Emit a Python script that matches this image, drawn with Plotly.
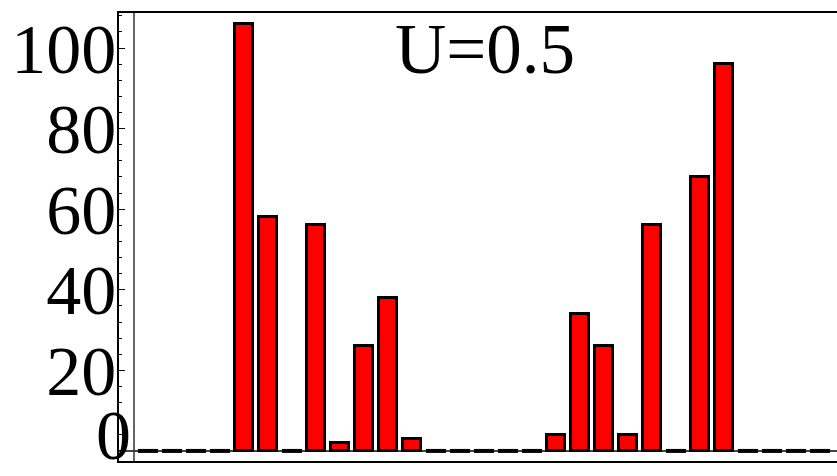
import plotly.graph_objects as go

# Data
positions = list(range(29))
values = [0, 0, 0, 0, 106, 58, 0, 56, 2, 26, 38, 3, 0, 0, 0, 0, 0,
          4, 34, 26, 4, 56, 0, 68, 96, 0, 0, 0, 0]
title_text = "U=0.5"
y_ticks = [0, 20, 40, 60, 80, 100]
y_tick_labels = ["0", "20", "40", "60", "80", "100"]

nz_x = [p for p, v in zip(positions, values) if v != 0]
nz_y = [v for v in values if v != 0]
z_x = [p for p, v in zip(positions, values) if v == 0]
z_y = [v for v in values if v == 0]

serif = "Liberation Serif"
L = 119
PW = 837 - L
Y_RANGE = [-2.5, 108.7]
tick_font = dict(family=serif, size=70, color="black")

fig = go.Figure()
fig.add_trace(go.Bar(
    x=nz_x, y=nz_y, width=0.72,
    marker=dict(color="#ff0000", line=dict(color="black", width=3)),
    showlegend=False,
))
fig.add_trace(go.Scatter(
    x=z_x, y=z_y, mode="markers", yaxis="y2",
    marker=dict(symbol="line-ew", size=14.3, line=dict(color="black", width=4)),
    showlegend=False, cliponaxis=False,
))

fig.update_layout(
    width=837, height=476,
    margin=dict(l=L, r=0, t=13, b=15, pad=0),
    paper_bgcolor="white", plot_bgcolor="white",
    bargap=0,
    xaxis=dict(
        range=[-(148 - L) / 24, (837 - 148) / 24], showgrid=False, zeroline=False,
        showticklabels=False, ticks="",
        showline=True, linecolor="black", linewidth=1.5, mirror=True,
    ),
    yaxis=dict(
        range=Y_RANGE, showgrid=False,
        zeroline=True, zerolinecolor="#444444", zerolinewidth=1.5,
        tickmode="array", tickvals=y_ticks,
        # the bottom label is drawn by the overlay axis (kept inside the page)
        ticktext=[t if v != 0 else "" for v, t in zip(y_ticks, y_tick_labels)],
        ticks="inside", ticklen=6, tickwidth=1, tickcolor="black",
        minor=dict(dtick=4, ticks="inside", ticklen=3, tickwidth=1, tickcolor="black"),
        showline=True, linecolor="black", linewidth=1.5, mirror=False,
        tickfont=tick_font,
        ticklabelstandoff=-13, ticklabeloverflow="allow",
    ),
    yaxis2=dict(
        range=Y_RANGE, overlaying="y", side="left", anchor="x",
        showgrid=False, zeroline=False, showline=False, ticks="",
        tickmode="array", tickvals=[y_ticks[0]], ticktext=[y_tick_labels[0]],
        tickfont=tick_font, ticklabelstandoff=-13, ticklabelshift=-16,
        ticklabeloverflow="allow",
    ),
    shapes=[dict(type="line", xref="paper", yref="paper",
                 x0=(134 - L) / PW, x1=(134 - L) / PW, y0=0, y1=1,
                 line=dict(color="#333333", width=1.5))],
    annotations=[dict(text=title_text, xref="paper", yref="paper",
                      x=(485 - L) / PW, y=1 - (49 - 13) / 448,
                      xanchor="center", yanchor="middle", showarrow=False,
                      font=dict(family=serif, size=71, color="black"))],
)

fig.write_html(
    "out.html",
    config={"displayModeBar": False},
    post_script=(
        "document.documentElement.style.overflow='hidden';"
        "document.body.style.margin='0';document.body.style.overflow='hidden';"
    ),
)
